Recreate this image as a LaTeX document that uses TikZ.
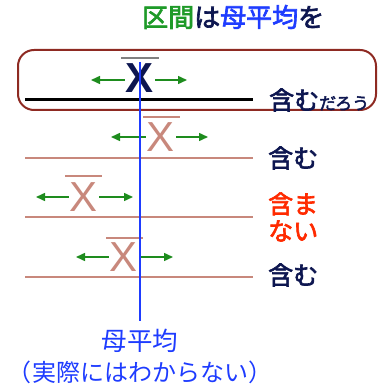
\documentclass[tikz,border=0pt]{standalone}
\usepackage{fontspec}
\setmainfont{Liberation Sans}
\newfontfamily\jp{Noto Sans CJK JP}
\newfontfamily\jpb{Noto Sans CJK JP}[FakeBold=2.5]
\usetikzlibrary{arrows.meta}
\definecolor{navy}{HTML}{0D1650}
\definecolor{pinkx}{HTML}{C8887C}
\definecolor{grn}{HTML}{1E8C1E}
\definecolor{blu}{HTML}{1E3CFF}
\definecolor{boxred}{HTML}{8E2A22}
\definecolor{redt}{HTML}{FF2A00}
\definecolor{jgreen}{HTML}{1E9A28}
\tikzset{
  arr/.style={draw=grn, line width=1.5pt, -{Triangle[length=9pt,width=8pt]}},
  xbar/.style={font=\fontsize{42}{42}\selectfont, inner sep=0pt},
  intv/.style={draw=pinkx, line width=2.6pt},
  lab/.style={font=\jpb\fontsize{25}{27}\selectfont, text=navy, anchor=west, inner sep=0pt},
}
\begin{document}
\begin{tikzpicture}[x=1pt,y=-1pt]
\useasboundingbox (0,0) rectangle (379,390);
% title
\node[anchor=west, inner sep=0pt, font=\jpb\fontsize{26}{28}\selectfont] (title) at (142,17)
  {\textcolor{jgreen}{区間}\textcolor{navy}{は}\textcolor{blu}{母平均}\textcolor{navy}{を}};
% box
\draw[boxred, line width=2pt, rounded corners=16pt] (18,50) rectangle (376,110);
% row 1
\draw[black, line width=3pt] (25,100) -- (253,100);
\node[xbar, text=navy, font=\bfseries\fontsize{42}{42}\selectfont] (x1) at (140,78) {X};
\draw[gray, line width=1.5pt] (121,58) -- (159,58);
\coordinate (l1) at (91,80); \coordinate (r1) at (187,80);
\draw[arr] (x1.west) ++(-1,2) -- (l1);
\draw[arr] (x1.east) ++(1,2) -- (r1);
\node[lab] (t1) at (269,100) {含む\fontsize{17}{18}\selectfont だろう};
% row 2
\draw[intv] (25,158) -- (253,158);
\node[xbar, text=pinkx] (x2) at (161,137) {X};
\draw[pinkx, line width=1.2pt] (143,117) -- (180,117);
\coordinate (l2) at (111,137); \coordinate (r2) at (208,137);
\draw[arr] (x2.west) ++(-1,0) -- (l2);
\draw[arr] (x2.east) ++(1,0) -- (r2);
\node[lab] (t2) at (268,158) {含む};
% row 3
\draw[intv] (25,217) -- (253,217);
\node[xbar, text=pinkx] (x3) at (84,197) {X};
\draw[pinkx, line width=1.2pt] (65,176) -- (102,176);
\coordinate (l3) at (36,197); \coordinate (r3) at (133,197);
\draw[arr] (x3.west) ++(-1,0) -- (l3);
\draw[arr] (x3.east) ++(1,0) -- (r3);
\node[lab, text=redt, align=left] (t3) at (268,217) {含ま\\ない};
% row 4
\draw[intv] (25,277) -- (253,277);
\node[xbar, text=pinkx] (x4) at (124,257) {X};
\draw[pinkx, line width=1.2pt] (106,238) -- (143,238);
\coordinate (l4) at (76,257); \coordinate (r4) at (173,257);
\draw[arr] (x4.west) ++(-1,0) -- (l4);
\draw[arr] (x4.east) ++(1,0) -- (r4);
\node[lab] (t4) at (268,275) {含む};
% mean line
\node[inner sep=0pt, font=\jp\fontsize{25.5}{27}\selectfont, text=blu] (mu) at (140,341) {母平均};
\node[inner sep=0pt, font=\jp\fontsize{24}{26}\selectfont, text=blu] (note) at (140,372) {（実際にはわからない）};
\coordinate (mtop) at (140,62);
\draw[blu, line width=2.8pt] (mtop) -- (140,321);
\end{tikzpicture}
\end{document}
